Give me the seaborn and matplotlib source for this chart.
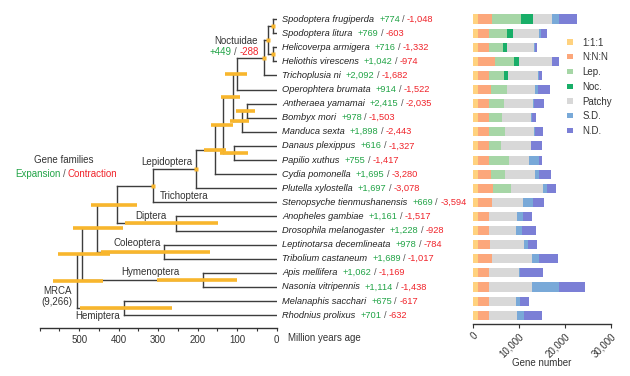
import numpy as np
import pandas as pd
import matplotlib
matplotlib.use("Agg")
import matplotlib.pyplot as plt
from matplotlib.patches import Patch
import seaborn as sns

sns.set_style("white")
plt.rcParams['font.family'] = ['Liberation Sans', 'DejaVu Sans']

species = ["Spodoptera frugiperda", "Spodoptera litura", "Helicoverpa armigera",
           "Heliothis virescens", "Trichoplusia ni", "Operophtera brumata",
           "Antheraea yamamai", "Bombyx mori", "Manduca sexta", "Danaus plexippus",
           "Papilio xuthus", "Cydia pomonella", "Plutella xylostella",
           "Stenopsyche tienmushanensis", "Anopheles gambiae", "Drosophila melanogaster",
           "Leptinotarsa decemlineata", "Tribolium castaneum", "Apis mellifera",
           "Nasonia vitripennis", "Melanaphis sacchari", "Rhodnius prolixus"]
expansion = [774, 769, 716, 1042, 2092, 914, 2415, 978, 1898, 616, 755, 1695, 1697,
             669, 1161, 1228, 978, 1689, 1062, 1114, 675, 701]
contraction = [1048, 603, 1332, 974, 1682, 1522, 2035, 1503, 2443, 1327, 1417, 3280, 3078,
               3594, 1517, 928, 784, 1017, 1169, 1438, 617, 632]

# gene numbers per orthology category
categories = ["1:1:1", "N:N:N", "Lep.", "Noc.", "Patchy", "S.D.", "N.D."]
colors = ["#ffd27f", "#fca77b", "#a6d6a6", "#18ae68", "#d8d8d8", "#79a9d8", "#7b7fd6"]
one_one_one = [1080, 1230, 1230, 1080, 1230, 1230, 1230, 1230, 1230, 1230, 1230, 1230, 1080,
               1080, 1230, 1230, 1230, 1230, 1230, 1230, 1230, 1230]
n_n_n = [3030, 2240, 2240, 3830, 2380, 2670, 2380, 2240, 2380, 2380, 2240, 2670, 3390,
         3030, 2240, 2240, 2460, 2890, 2240, 2240, 2240, 2240]
lep = [6280, 4040, 3180, 4120, 3250, 3470, 3100, 2820, 3320, 2600, 4330, 3030, 3750,
       0, 0, 0, 0, 0, 0, 0, 0, 0]
noc = [2600, 1300, 720, 940, 720, 0, 0, 0, 0, 0, 0, 0, 0,
       0, 0, 0, 0, 0, 0, 0, 0, 0]
patchy = [4120, 5630, 5920, 7150, 6640, 6140, 6430, 6280, 6280, 6350, 4330, 6640, 7080,
          6860, 6210, 5990, 7510, 8810, 6640, 9460, 5850, 6060]
sd = [1660, 430, 220, 140, 220, 580, 140, 360, 360, 140, 2170, 870, 870,
      2020, 1300, 1230, 870, 1520, 140, 5700, 1010, 1660]
nd = [3900, 1300, 360, 1520, 650, 2740, 2240, 870, 1730, 2310, 720, 2600, 1950,
      2530, 1950, 3100, 1950, 4120, 5050, 5780, 1950, 3900]

# tree: node, children, age (My), 95% interval (None -> dot)
tree_nodes = [
    ("Spodoptera", ["Spodoptera frugiperda", "Spodoptera litura"], 9, None),
    ("Heliothinae", ["Helicoverpa armigera", "Heliothis virescens"], 9, None),
    ("Noct1", ["Spodoptera", "Heliothinae"], 23, None),
    ("Noctuidae", ["Noct1", "Trichoplusia ni"], 31, None),
    ("Macro1", ["Noctuidae", "Operophtera brumata"], 100, (131, 76)),
    ("Bomb1", ["Antheraea yamamai", "Bombyx mori"], 74, (104, 55)),
    ("Bombycoidea", ["Bomb1", "Manduca sexta"], 87, (118, 70)),
    ("Macroheterocera", ["Macro1", "Bombycoidea"], 111, (141, 93)),
    ("Papilionoidea", ["Danaus plexippus", "Papilio xuthus"], 107, (144, 73)),
    ("Obtectomera", ["Macroheterocera", "Papilionoidea"], 137, (167, 111)),
    ("Ditrysia", ["Obtectomera", "Cydia pomonella"], 156, (184, 129)),
    ("Lepidoptera", ["Ditrysia", "Plutella xylostella"], 204, None),
    ("Amphiesmenoptera", ["Lepidoptera", "Stenopsyche tienmushanensis"], 313, None),
    ("Diptera", ["Anopheles gambiae", "Drosophila melanogaster"], 256, (384, 149)),
    ("Panorpida", ["Amphiesmenoptera", "Diptera"], 404, (470, 354)),
    ("Coleoptera", ["Leptinotarsa decemlineata", "Tribolium castaneum"], 285, (446, 169)),
    ("Holo1", ["Panorpida", "Coleoptera"], 454, (515, 390)),
    ("Hymenoptera", ["Apis mellifera", "Nasonia vitripennis"], 186, (304, 101)),
    ("Holometabola", ["Holo1", "Hymenoptera"], 494, (553, 422)),
    ("Hemiptera", ["Melanaphis sacchari", "Rhodnius prolixus"], 387, (498, 266)),
    ("MRCA", ["Holometabola", "Hemiptera"], 506, (567, 439)),
]

green = "#22a447"
red = "#f0242b"
orange = "#f8b62d"
line_c = "#3d3d3d"
fs = 6.7

W, H = 630, 376
fig = plt.figure(figsize=(6.3, 3.76), dpi=100)


def px_rect(left, right, top, bottom):
    return [left / W, 1 - bottom / H, (right - left) / W, (bottom - top) / H]


# ---------------- tree ----------------
tax = fig.add_axes(px_rect(39.7, 276.7, 5, 328.3))
tax.set_xlim(600, 0)
tax.set_ylim(21.936, -0.993)

ypos = {sp: i for i, sp in enumerate(species)}
xpos = {sp: 0 for sp in species}
for name, kids, age, ci in tree_nodes:
    ypos[name] = np.mean([ypos[k] for k in kids])
    xpos[name] = age

for name, kids, age, ci in tree_nodes:
    ys = [ypos[k] for k in kids]
    tax.plot([age, age], [min(ys), max(ys)], color=line_c, lw=1.0, solid_capstyle="projecting")
    for k in kids:
        tax.plot([age, xpos[k]], [ypos[k], ypos[k]], color=line_c, lw=1.0, solid_capstyle="projecting")

for name, kids, age, ci in tree_nodes:
    if ci is None:
        tax.plot(age, ypos[name], "s", ms=2.6, color=orange, mec="none", zorder=4)
    else:
        tax.plot(ci, [ypos[name], ypos[name]], color=orange, lw=2.6, solid_capstyle="butt", zorder=3)


def chain(first, pieces, size=fs):
    t = first
    for s, c, gap in pieces:
        t = tax.annotate(s, xy=(1, 0), xycoords=t, xytext=(gap, 0), textcoords="offset points",
                         va="bottom", ha="left", color=c, fontsize=size, annotation_clip=False)
    return t


for i, sp in enumerate(species):
    t = tax.text(-14.2, i, sp, style="italic", fontsize=fs, va="center", ha="left",
                 color="#222222", clip_on=False)
    chain(t, [(f"+{expansion[i]:,}", green, 3.5), ("/", "#555555", 1.6),
              (f"-{contraction[i]:,}", red, 1.6)])

# clade labels
lab = dict(fontsize=7, color="#333333", ha="center", va="center", clip_on=False)
tax.text(101.8, 1.56, "Noctuidae", **lab)
t = tax.text(168.9, 2.34, "+449", fontsize=7, color=green, ha="left", va="center")
chain(t, [("/", "#555555", 1.6), ("-288", red, 1.6)], size=7)
tax.text(277.7, 10.14, "Lepidoptera", **lab)
tax.text(538.5, 10.0, "Gene families", **lab)
t = tax.text(662.5, 10.99, "Expansion", fontsize=7, color=green, ha="left", va="center", clip_on=False)
chain(t, [("/", "#555555", 1.6), ("Contraction", red, 1.6)], size=7)
tax.text(233.4, 12.53, "Trichoptera", **lab)
tax.text(318, 13.95, "Diptera", **lab)
tax.text(354.4, 15.9, "Coleoptera", **lab)
tax.text(320.8, 17.92, "Hymenoptera", **lab)
tax.text(556, 19.29, "MRCA", **lab)
tax.text(556, 20.07, "(9,266)", **lab)
tax.text(452.4, 21.04, "Hemiptera", **lab)

for s in ["left", "top", "right"]:
    tax.spines[s].set_visible(False)
tax.spines["bottom"].set_color("#333333")
tax.spines["bottom"].set_linewidth(1.0)
tax.set_yticks([])
tax.set_xticks(range(0, 601, 50))
tax.set_xticklabels([str(v) if v % 100 == 0 and v < 600 else "" for v in range(0, 601, 50)])
tax.tick_params(axis="x", length=2.5, width=0.8, labelsize=7, pad=2, colors="#333333", bottom=True)
fig.text(287.7 / W, 1 - 338 / H, "Million years age", fontsize=7, color="#333333", ha="left", va="center")

# ---------------- stacked bars ----------------
bax = fig.add_axes(px_rect(472.7, 611, 5, 324))
seg = np.array([one_one_one, n_n_n, lep, noc, patchy, sd, nd])
cum = np.cumsum(seg, axis=0)
df = pd.DataFrame(cum.T, columns=categories)
df["species"] = species
for i in reversed(range(len(categories))):
    sns.barplot(data=df, x=categories[i], y="species", order=species, orient="h",
                color=colors[i], saturation=1, width=0.64, linewidth=0, errorbar=None, ax=bax)
bax.set_xlim(0, 30000)
bax.set_ylim(21.624, -0.993)
bax.set_yticks([])
bax.set_ylabel("")
bax.set_xlabel("")
for s in ["left", "top", "right"]:
    bax.spines[s].set_visible(False)
bax.spines["bottom"].set_color("#333333")
bax.spines["bottom"].set_linewidth(1.0)
bax.set_xticks([0, 10000, 20000, 30000])
bax.set_xticklabels(["0", "10,000", "20,000", "30,000"], rotation=45, ha="right", va="top",
                    rotation_mode="anchor")
bax.tick_params(axis="x", length=3, width=0.8, labelsize=7, pad=2, colors="#333333", bottom=True)
fig.text(541.8 / W, 1 - 363 / H, "Gene number", fontsize=7, color="#333333", ha="center", va="center")

handles = [Patch(facecolor=c, edgecolor="none", label=l) for c, l in zip(colors, categories)]
fig.legend(handles=handles, loc="upper left", bbox_to_anchor=(567 / W, 1 - 37.5 / H), frameon=False,
           fontsize=7, handlelength=0.6, handleheight=0.45, handletextpad=1.0, labelspacing=0.49,
           borderpad=0, borderaxespad=0, labelcolor="#333333")

fig.savefig("out.png", dpi=100)
